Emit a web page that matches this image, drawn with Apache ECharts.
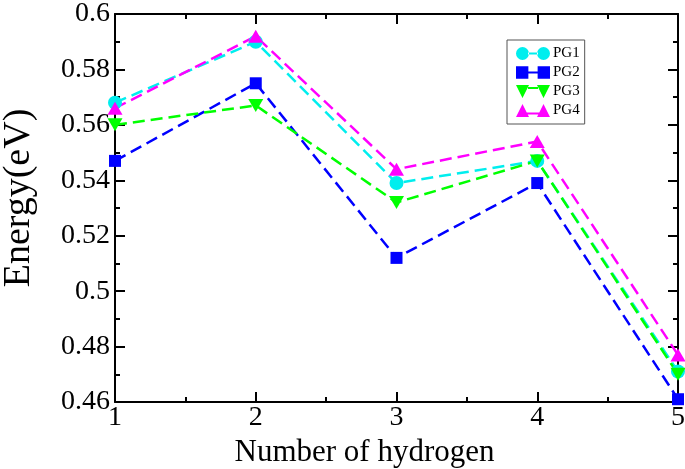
<!DOCTYPE html>
<html>
<head>
<meta charset="utf-8">
<script src="https://cdn.jsdelivr.net/npm/echarts@6/dist/echarts.min.js"></script>
<style>
  html, body { margin: 0; padding: 0; background: #fff; }
  #chart { width: 685px; height: 469px; }
</style>
</head>
<body>
<div id="chart"></div>
<script>
const hydrogen = [1, 2, 3, 4, 5];
const pg1 = [0.568, 0.590, 0.539, 0.547, 0.471];
const pg2 = [0.547, 0.575, 0.512, 0.539, 0.461];
const pg3 = [0.560, 0.567, 0.532, 0.547, 0.470];
const pg4 = [0.566, 0.592, 0.544, 0.554, 0.477];

const chart = echarts.init(document.getElementById('chart'));
const font = 'Liberation Serif';
const pair = arr => hydrogen.map((h, i) => [h, arr[i]]);

// legend icons: two markers joined by a short line
const bar = 'M12,5.5 L22,5.5 L22,7.5 L12,7.5 Z';
const icons = {
  PG1: 'path://M0,6.5 A6.5,6.5 0 1 0 13,6.5 A6.5,6.5 0 1 0 0,6.5 Z M21,6.5 A6.5,6.5 0 1 0 34,6.5 A6.5,6.5 0 1 0 21,6.5 Z ' + bar,
  PG2: 'path://M0.5,0.5 L12.5,0.5 L12.5,12.5 L0.5,12.5 Z M21.5,0.5 L33.5,0.5 L33.5,12.5 L21.5,12.5 Z ' + bar,
  PG3: 'path://M0,0 L13,0 L6.5,13 Z M21,0 L34,0 L27.5,13 Z M12,2 L22,2 L22,4 L12,4 Z',
  PG4: 'path://M6.5,0 L13,13 L0,13 Z M27.5,0 L34,13 L21,13 Z M10,8.5 L24,8.5 L24,10.5 L10,10.5 Z'
};

// 公共的线条设置
const lineConfig = {
  type: 'line',
  lineStyle: { width: 2.5, type: [12, 6] },
  z: 3
};

const frameAxis = {
  axisLine: { show: true, lineStyle: { color: '#000', width: 2 } },
  axisTick: { show: true, inside: true, length: 10, lineStyle: { color: '#000', width: 2 } },
  minorTick: { show: true, splitNumber: 2, length: 5, lineStyle: { color: '#000', width: 2 } },
  splitLine: { show: false }
};

chart.setOption({
  backgroundColor: '#fff',
  animation: false,
  grid: { left: 115, right: 7, top: 14, bottom: 67, containLabel: false, outerBoundsMode: 'none' },
  legend: {
    orient: 'vertical',
    left: 507,
    top: 40,
    itemWidth: 34,
    itemHeight: 13,
    itemGap: 4,
    padding: [6, 5, 6, 9],
    borderColor: '#555',
    borderWidth: 1,
    backgroundColor: '#fff',
    textStyle: { fontFamily: font, fontSize: 15, color: '#000', padding: [0, 0, 0, -2] },
    data: ['PG1', 'PG2', 'PG3', 'PG4'].map(n => ({ name: n, icon: icons[n] }))
  },
  xAxis: [
    {
      ...frameAxis,
      type: 'value',
      min: 1, max: 5, interval: 1,
      name: 'Number of hydrogen',
      nameLocation: 'middle',
      nameGap: 33,
      nameTextStyle: { fontFamily: font, fontSize: 31, color: '#000', padding: [0, 64, 0, 0] },
      axisLabel: { fontFamily: font, fontSize: 28, color: '#000', margin: 2 }
    },
    {
      ...frameAxis,
      type: 'value', position: 'top',
      min: 1, max: 5, interval: 1,
      axisLabel: { show: false }
    }
  ],
  yAxis: [
    {
      ...frameAxis,
      type: 'value',
      min: 0.46, max: 0.6, interval: 0.02,
      name: 'Energy(eV)',
      nameLocation: 'middle',
      nameGap: 77,
      nameTextStyle: { fontFamily: font, fontSize: 38, color: '#000', padding: [0, 0, 0, 20] },
      axisLabel: {
        fontFamily: font, fontSize: 28, color: '#000', margin: 5,
        formatter: v => String(+v.toFixed(2))
      }
    },
    {
      ...frameAxis,
      type: 'value', position: 'right',
      min: 0.46, max: 0.6, interval: 0.02,
      axisLabel: { show: false }
    }
  ],
  series: [
    {
      ...lineConfig, name: 'PG1', data: pair(pg1),
      color: '#00eeee', symbol: 'circle', symbolSize: 14
    },
    {
      ...lineConfig, name: 'PG2', data: pair(pg2),
      color: '#0000ff', symbol: 'rect', symbolSize: 12
    },
    {
      ...lineConfig, name: 'PG3', data: pair(pg3),
      color: '#00ff00', symbol: 'path://M0,0 L10,0 L5,9 Z', symbolSize: [15, 13]
    },
    {
      ...lineConfig, name: 'PG4', data: pair(pg4),
      color: '#ff00ff', symbol: 'triangle', symbolSize: [15, 13]
    }
  ]
});
</script>
</body>
</html>
